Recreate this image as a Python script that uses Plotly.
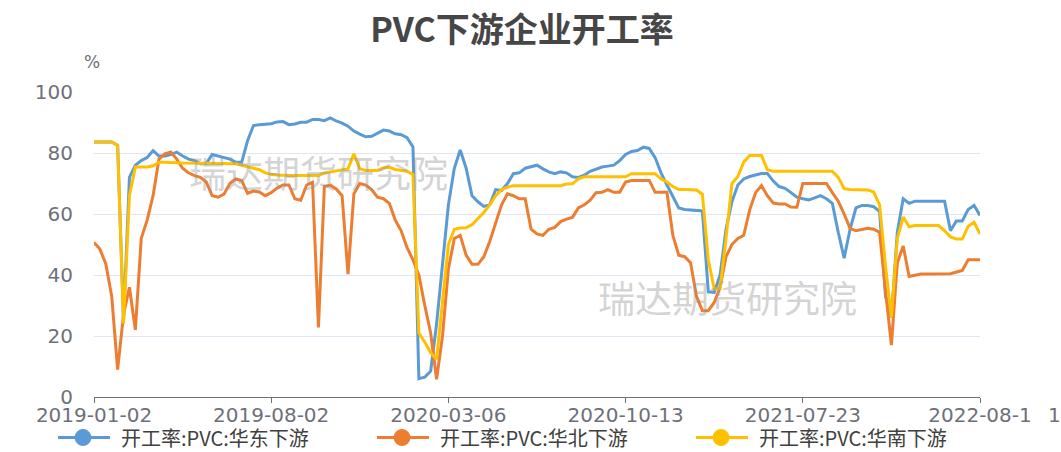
import plotly.graph_objects as go

# ---------------- data ----------------
tick_labels = ["2019-01-02", "2019-08-02", "2020-03-06", "2020-10-13", "2021-07-23", "2022-08-1"]

series_names = ["开工率:PVC:华东下游", "开工率:PVC:华北下游", "开工率:PVC:华南下游"]

east = [
    83.6, 83.6, 83.6, 83.6, 82.5, 25, 72, 76, 77.5, 78.5,
    80.8, 79, 79, 79.5, 80.3, 79, 78, 77.5, 76.5, 76.5,
    79.5, 79, 78.6, 78, 77, 77, 84, 89, 89.3, 89.4,
    89.6, 90.2, 90.3, 89.3, 89.5, 90.1, 90.1, 91, 91, 90.6,
    91.5, 90.5, 89.8, 88.8, 87.2, 86.2, 85.3, 85.5, 86.4, 87.5,
    87.2, 86.3, 86, 85, 82, 6, 6.5, 8.5, 24, 44,
    63, 75, 81, 75, 66, 64, 62.5, 63, 68, 67.7,
    70, 73.2, 73.5, 75, 75.4, 76, 74.8, 73.8, 73.2, 73.8,
    73.5, 72.2, 72, 72.7, 74, 74.8, 75.4, 75.7, 76, 77.5,
    79.5, 80.5, 80.8, 81.9, 81.5, 78.5, 73.5, 69.5, 65.5, 62,
    61.5, 61.3, 61, 61, 34.5, 34.3, 40, 55, 64, 69.5,
    71.5, 72.3, 72.8, 73.3, 73.3, 70.8, 69, 68.4, 67, 65.5,
    65, 64.6, 65.3, 66, 65, 63.5, 54, 45.5, 55, 62,
    62.8, 62.8, 62.4, 60.8, 33, 26, 54, 65, 63.5, 64.2,
    64.2, 64.2, 64.2, 64.2, 64.2, 54.5, 57.7, 57.7, 61.5, 62.8,
    59.5,
]

north = [
    50.7, 48.5, 43.6, 33, 9, 27, 36, 22, 52, 58,
    66, 78, 79.7, 80.3, 78, 75, 73.5, 72.6, 72, 70.5,
    66, 65.5, 66.5, 70, 71.5, 71, 66.8, 67.5, 67.2, 66,
    67, 68.5, 69.5, 69.5, 65, 64.5, 69.5, 70.4, 22.8, 69,
    69.5, 68.2, 66, 40.3, 66.6, 70, 69.5, 68, 65.5, 65,
    63.5, 58, 54.5, 49, 45, 40, 30, 21, 5.8, 20,
    42, 52, 53, 46.5, 43.5, 43.5, 46, 51, 57, 63,
    66.6, 66, 65, 65, 55, 53.5, 53, 55, 55.6, 57.5,
    58.3, 58.9, 62, 63, 64.5, 67, 67.1, 68, 67.1, 67.1,
    70.5, 71, 71, 71, 71, 67.1, 67.1, 67.1, 53, 46.5,
    46, 44, 33, 28.3, 28.3, 31, 36, 46, 50, 52,
    53, 61.3, 67, 69.3, 66, 63.6, 63.3, 63.3, 62.3, 62.2,
    70, 70, 70, 70, 70, 67, 64.2, 60, 55.3, 54.5,
    54.8, 55.3, 55, 54, 35, 17, 44, 49.5, 39.5, 40,
    40.3, 40.3, 40.3, 40.3, 40.3, 40.4, 41, 41.5, 45, 45,
    45,
]

south = [
    83.6, 83.6, 83.6, 83.6, 82.5, 24, 66, 75.4, 75.4, 75.4,
    75.8, 77, 77, 76.8, 76.8, 76.7, 76.7, 76.7, 76.7, 76.7,
    76.7, 76.7, 76.7, 76.7, 76.5, 76, 75.5, 75, 74.5, 73.5,
    73, 72.8, 72.6, 72.6, 72.6, 72.6, 72.6, 72.6, 72.6, 73.5,
    73.8, 74.2, 74.5, 74.8, 79.7, 74.8, 74.3, 74.3, 74.3, 75.2,
    75.3, 74.6, 74.3, 74, 73, 21, 18, 14.5, 12.4, 32,
    50, 55, 55.4, 55.5, 56.5, 58.5, 60.5, 63, 66, 68,
    68.8, 69.3, 69.3, 69.3, 69.3, 69.3, 69.3, 69.3, 69.3, 69.3,
    69.8, 69.9, 71.5, 72.2, 72.2, 72.2, 72.2, 72.2, 72.2, 72.2,
    72.2, 73.2, 73.2, 73.2, 73.2, 73.2, 71.5, 70.5, 69, 68,
    68, 68, 67.9, 66.5, 45, 35.5, 35.5, 52, 70, 72.3,
    77, 79.2, 79.2, 79.2, 74.5, 74, 74, 74, 74, 74,
    74, 74, 74, 74, 74, 74, 72, 68.3, 68, 68,
    68, 67.9, 67.2, 63, 43, 26, 52, 59, 55.8, 56.2,
    56.2, 56.2, 56.2, 56.2, 54.5, 52.5, 51.8, 51.8, 56, 57.3,
    53.4,
]

colors = ["#5B9BD5", "#ED7D31", "#FFC000"]

# ---------------- figure ----------------
fig = go.Figure()
all_series = [east, north, south]
for name, vals, col in zip(series_names, all_series, colors):
    fig.add_trace(go.Scatter(
        x=list(range(len(vals))), y=vals, mode="lines",
        line=dict(color=col, width=3), name=name, showlegend=False,
        hoverinfo="skip",
    ))

n = len(east)
tick_positions = list(range(0, n, 30))

# plot-area geometry (pixels) used to place legend / labels in paper coords
W, H = 1061, 452
L, R, T, B = 94, 81, 92, 55
pw, ph = W - L - R, H - T - B


def px(xp):
    return (xp - L) / pw


def py(yp):
    return (H - B - yp) / ph


axis_grey = "#6E7079"
wm_font = dict(family="Noto Sans CJK SC", size=37, color="rgba(150,150,150,0.42)")

annotations = [
    dict(text="瑞达期货研究院", xref="paper", yref="paper", x=px(318), y=py(172),
         xanchor="center", yanchor="middle", showarrow=False, font=wm_font),
    dict(text="瑞达期货研究院", xref="paper", yref="paper", x=px(727), y=py(297),
         xanchor="center", yanchor="middle", showarrow=False, font=wm_font),
    dict(text="%", xref="paper", yref="paper", x=px(92), y=py(62),
         xanchor="center", yanchor="middle", showarrow=False,
         font=dict(family="DejaVu Sans", size=17, color=axis_grey)),
    dict(text="1", xref="paper", yref="paper", x=px(1054), y=py(415),
         xanchor="center", yanchor="middle", showarrow=False,
         font=dict(family="DejaVu Sans", size=20, color=axis_grey)),
]
shapes = []

# custom legend (line + circle marker + label)
leg_y = 437.5
for k, (name, col) in enumerate(zip(series_names, colors)):
    x0 = 58 + k * 319
    shapes.append(dict(type="line", xref="paper", yref="paper",
                       x0=px(x0), x1=px(x0 + 52), y0=py(leg_y), y1=py(leg_y),
                       line=dict(color=col, width=3)))
    cx, r = x0 + 25, 8
    shapes.append(dict(type="circle", xref="paper", yref="paper",
                       x0=px(cx - r), x1=px(cx + r), y0=py(leg_y + r), y1=py(leg_y - r),
                       fillcolor=col, line=dict(color=col, width=1)))
    annotations.append(dict(text=name, xref="paper", yref="paper",
                            x=px(x0 + 62), y=py(leg_y), xanchor="left", yanchor="middle",
                            showarrow=False, borderpad=0,
                            font=dict(family="Noto Sans CJK SC", size=20, color="#404040")))

fig.update_layout(
    width=W, height=H, showlegend=False,
    margin=dict(l=L, r=R, t=T, b=B, autoexpand=False),
    paper_bgcolor="white", plot_bgcolor="white",
    title=dict(
        text="<b>PVC下游企业开工率</b>", x=0.492, xanchor="center",
        y=0.934, yanchor="middle",
        font=dict(family="Noto Sans CJK SC", size=34, color="#464646"),
    ),
    xaxis=dict(
        range=[0, n - 1], tickmode="array", tickvals=tick_positions,
        ticktext=tick_labels, showgrid=False, zeroline=False,
        showline=True, linecolor=axis_grey, linewidth=1,
        ticks="outside", ticklen=5, tickcolor=axis_grey,
        ticklabelstandoff=-5,
        tickfont=dict(family="DejaVu Sans", size=20, color=axis_grey),
    ),
    yaxis=dict(
        range=[0, 100], dtick=20, showgrid=True, gridcolor="#E0E6F1",
        zeroline=False, showline=False, ticks="",
        ticklabelstandoff=20,
        tickfont=dict(family="DejaVu Sans", size=20, color=axis_grey),
    ),
    shapes=shapes,
    annotations=annotations,
)

fig.write_html(
    "out.html",
    config={"displayModeBar": False},
    post_script="document.body.style.margin='0';document.body.style.overflow='hidden';",
)
